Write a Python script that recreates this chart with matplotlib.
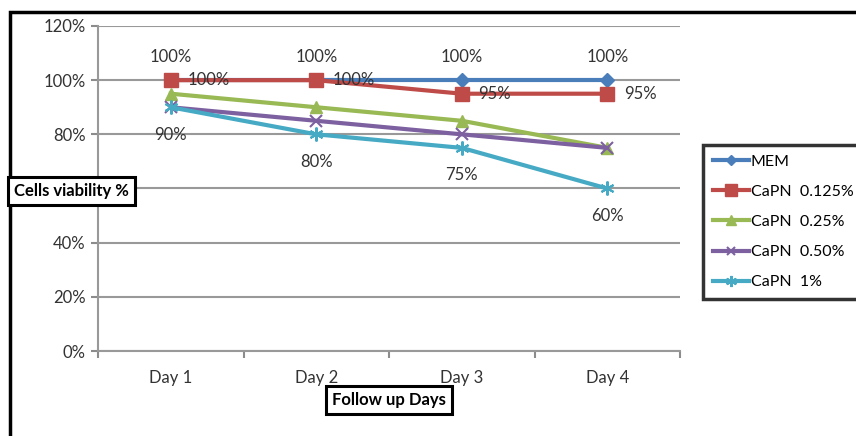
import matplotlib.pyplot as plt
from matplotlib.patches import Rectangle
from matplotlib.ticker import FuncFormatter, FixedLocator

plt.rcParams['font.family'] = ['Lato', 'DejaVu Sans']

days = ['Day 1', 'Day 2', 'Day 3', 'Day 4']
mem = [100, 100, 100, 100]
capn_0125 = [100, 100, 95, 95]
capn_025 = [95, 90, 85, 75]
capn_050 = [90, 85, 80, 75]
capn_1 = [90, 80, 75, 60]

W, H = 856, 436
FS = 12
fig = plt.figure(figsize=(W / 100, H / 100), dpi=100)
ax = fig.add_axes([98 / W, 1 - 351 / H, (680 - 98) / W, (351 - 26) / H])

x = list(range(1, len(days) + 1))
series = [
    ('MEM', mem, '#4A7EBB', 'D', 7),
    ('CaPN  0.125%', capn_0125, '#BE4B48', 's', 10),
    ('CaPN  0.25%', capn_025, '#98B954', '^', 9),
    ('CaPN  0.50%', capn_050, '#7D60A0', 'x', 8),
    ('CaPN  1%', capn_1, '#46AAC5', (6, 2, 0), 10),
]
handles = []
for name, vals, col, mk, ms in series:
    h, = ax.plot(x, vals, color=col, lw=3, marker=mk, markersize=ms,
                 markeredgewidth=1.5 if mk in ('x', (6, 2, 0)) else 1,
                 markeredgecolor=col, label=name, zorder=3)
    handles.append(h)

# value labels
for xi, v in zip(x, mem):
    ax.annotate(f'{v}%', (xi, v), xytext=(0, 11), textcoords='offset points',
                ha='center', va='bottom', fontsize=FS, color='#333333')
for xi, v in zip(x, capn_0125):
    ax.annotate(f'{v}%', (xi, v), xytext=(12, 0), textcoords='offset points',
                ha='left', va='center', fontsize=FS, color='#333333')
for xi, v in zip(x, capn_1):
    ax.annotate(f'{v}%', (xi, v), xytext=(0, -14), textcoords='offset points',
                ha='center', va='top', fontsize=FS, color='#333333')

ax.set_xlim(0.5, 4.5)
ax.set_ylim(0, 120)
ax.set_yticks(range(0, 121, 20))
# the 60% label sits under the y-title box
ax.yaxis.set_major_formatter(
    FuncFormatter(lambda v, p: '' if round(v) == 60 else f'{v:.0f}%'))
ax.xaxis.set_major_locator(FixedLocator([0.5, 1.5, 2.5, 3.5, 4.5]))
ax.xaxis.set_major_formatter(FuncFormatter(lambda v, p: ''))
ax.xaxis.set_minor_locator(FixedLocator(x))
ax.set_xticklabels(days, minor=True)
ax.tick_params(axis='x', which='minor', length=0, pad=14, labelsize=FS,
               labelcolor='#333333')
ax.tick_params(axis='x', which='major', length=5, color='#8C8C8C', width=1.5)
ax.tick_params(axis='y', length=5, color='#8C8C8C', width=1.5, labelsize=FS,
               labelcolor='#333333', pad=4)

ax.grid(axis='y', color='#999999', lw=1.5)
ax.set_axisbelow(True)
for s in ('top', 'right'):
    ax.spines[s].set_visible(False)
for s in ('left', 'bottom'):
    ax.spines[s].set_color('#999999')
    ax.spines[s].set_linewidth(1.5)

box = dict(boxstyle='square,pad=0.35', fc='white', ec='black', lw=2.2)
fig.text(14 / W, 1 - 191 / H, 'Cells viability %', fontsize=FS,
         fontweight='bold', ha='left', va='center', bbox=box)
fig.text(389 / W, 1 - 400 / H, 'Follow up Days', fontsize=FS,
         fontweight='bold', ha='center', va='center', bbox=box)

leg = fig.legend(handles=handles, loc='upper left',
                 bbox_to_anchor=(703 / W, 1 - 145 / H), frameon=True,
                 fancybox=False, edgecolor='black', fontsize=11.5,
                 handlelength=2.3, handletextpad=0.1, labelspacing=1.0,
                 borderpad=0.6, borderaxespad=0, markerscale=0.8)
leg.get_frame().set_linewidth(2.5)

# outer chart border (runs past the right and bottom edges)
fig.patches.append(Rectangle((10 / W, -0.1), 1.2, 1 - 12 / H + 0.1,
                             transform=fig.transFigure, fill=False,
                             ec='black', lw=2.5, zorder=0))

fig.savefig('out.png', dpi=100)
